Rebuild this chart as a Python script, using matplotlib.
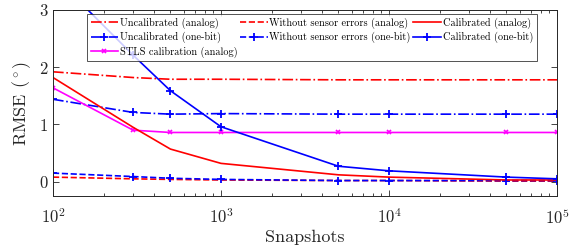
import matplotlib
matplotlib.use("Agg")
import matplotlib.pyplot as plt
import numpy as np

plt.rcParams['font.family'] = ['cmr10', 'DejaVu Serif']
plt.rcParams['mathtext.fontset'] = 'cm'
plt.rcParams['axes.formatter.use_mathtext'] = True

snapshots = [100, 300, 500, 1000, 5000, 10000, 50000, 100000]
uncal_analog = [1.92, 1.82, 1.79, 1.79, 1.78, 1.78, 1.78, 1.78]
uncal_onebit = [1.44, 1.21, 1.18, 1.19, 1.18, 1.18, 1.18, 1.18]
stls_analog = [1.64, 0.90, 0.86, 0.86, 0.86, 0.86, 0.86, 0.86]
noerr_analog = [0.08, 0.05, 0.04, 0.03, 0.02, 0.02, 0.01, 0.01]
noerr_onebit = [0.15, 0.09, 0.06, 0.04, 0.02, 0.02, 0.02, 0.02]
cal_analog = [1.82, 0.95, 0.57, 0.32, 0.12, 0.08, 0.03, 0.03]
cal_onebit = [3.61, 2.21, 1.59, 0.96, 0.27, 0.19, 0.08, 0.05]

fig = plt.figure(figsize=(5.79, 2.52), dpi=100)
ax = fig.add_axes([53/579, 1-196/252, (557-53)/579, (196-10)/252])

lw = 1.2
pms = 5.5
ax.plot(snapshots, uncal_analog, color='red', ls='-.', lw=lw, label='Uncalibrated (analog)')
ax.plot(snapshots, uncal_onebit, color='blue', ls='-.', lw=lw, marker='+', ms=pms, mew=1.3, label='Uncalibrated (one-bit)')
ax.plot(snapshots, stls_analog, color='magenta', ls='-', lw=lw, marker='x', ms=3.5, mew=1.2, label='STLS calibration (analog)')
ax.plot(snapshots, noerr_analog, color='red', ls='--', lw=lw, label='Without sensor errors (analog)')
ax.plot(snapshots, noerr_onebit, color='blue', ls='--', lw=lw, marker='+', ms=pms, mew=1.3, label='Without sensor errors (one-bit)')
ax.plot(snapshots, cal_analog, color='red', ls='-', lw=lw, label='Calibrated (analog)')
ax.plot(snapshots, cal_onebit, color='blue', ls='-', lw=lw, marker='+', ms=pms, mew=1.3, label='Calibrated (one-bit)')

ax.set_xscale('log')
ax.set_xlim(100, 100000)
ax.set_ylim(-0.25, 3)
ax.set_yticks([0, 1, 2, 3])
ax.tick_params(which='both', direction='in', top=True, right=True, labelsize=12, colors='#262626')
ax.tick_params(which='major', length=4, width=0.6)
ax.tick_params(which='minor', length=2.5, width=0.6)
ax.tick_params(axis='x', pad=8)
for s in ax.spines.values():
    s.set_color('#262626')
    s.set_linewidth(0.7)
ax.set_xlabel('Snapshots', fontsize=13, color='#262626', labelpad=2)
ax.set_ylabel(r'RMSE ($^\circ$)', fontsize=13, color='#262626', labelpad=4)

leg = ax.legend(ncol=3, loc='upper left', bbox_to_anchor=((87-53)/504, 1-(14-10)/186),
                fontsize=7.4, frameon=True, fancybox=False, edgecolor='#262626',
                handlelength=2.7, handletextpad=0.15, columnspacing=0.25, labelspacing=0.3,
                borderpad=0.35, borderaxespad=0)
leg.get_frame().set_linewidth(0.7)

fig.savefig('out.png', dpi=100)
